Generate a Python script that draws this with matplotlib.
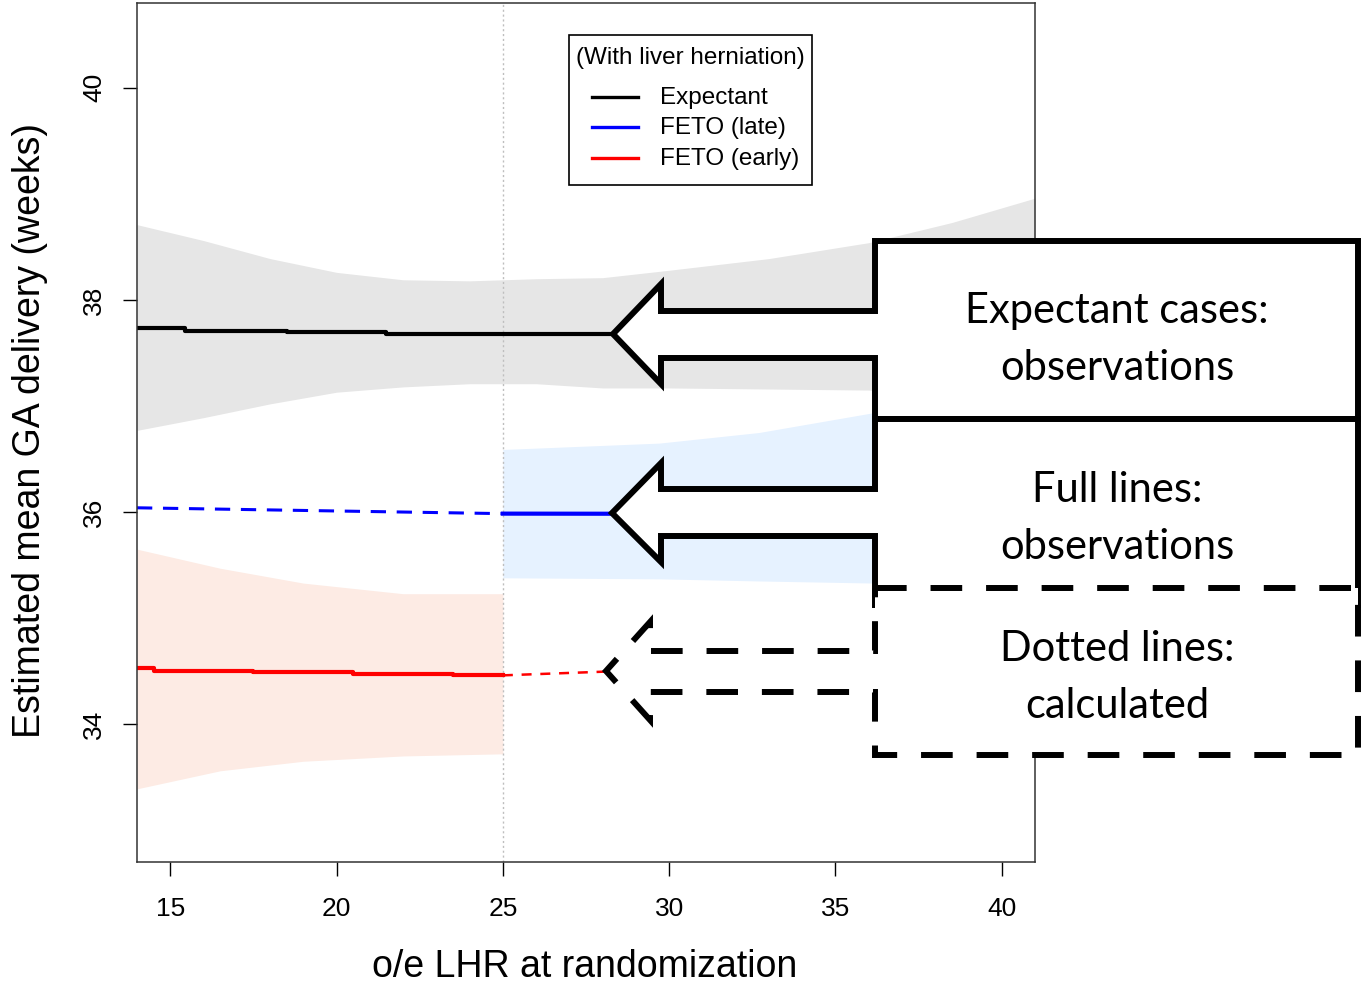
import numpy as np
import matplotlib
matplotlib.use("Agg")
import matplotlib.pyplot as plt
from matplotlib.patches import Polygon, Rectangle
from matplotlib.lines import Line2D

# ---- data ----
x_ticks = [15, 20, 25, 30, 35, 40]
y_ticks = [34, 36, 38, 40]
cutoff = 25

# expectant: step line + confidence band
exp_x = [14.0, 15.45, 18.5, 21.5, 41.0]
exp_y = [37.74, 37.71, 37.70, 37.68, 37.68]
exp_band_x = [14, 16, 18, 20, 22, 24, 26, 28, 30, 33, 36, 38.5, 41]
exp_band_hi = [38.71, 38.56, 38.39, 38.26, 38.19, 38.18, 38.20, 38.21, 38.28, 38.39, 38.54, 38.73, 38.96]
exp_band_lo = [36.77, 36.89, 37.02, 37.13, 37.18, 37.21, 37.21, 37.17, 37.17, 37.16, 37.15, 37.10, 37.05]

# FETO late: calculated (dashed) below cutoff, observed above
late_calc_x = [14.0, 25.0]
late_calc_y = [36.04, 35.985]
late_obs_x = [25.0, 41.0]
late_obs_y = [35.985, 35.98]
late_band_x = [25.0, 29.7, 32.7, 36.2, 41.0]
late_band_hi = [36.59, 36.65, 36.75, 36.94, 37.30]
late_band_lo = [35.38, 35.37, 35.35, 35.33, 35.25]

# FETO early: observed below cutoff, calculated (dashed) above
early_obs_x = [14.0, 14.5, 17.5, 20.5, 23.5, 25.0]
early_obs_y = [34.53, 34.50, 34.49, 34.47, 34.46, 34.46]
early_calc_x = [25.0, 28.5]
early_calc_y = [34.46, 34.50]
early_band_x = [14.0, 16.5, 19.0, 22.0, 25.0]
early_band_hi = [35.65, 35.47, 35.33, 35.23, 35.23]
early_band_lo = [33.39, 33.56, 33.65, 33.70, 33.72]

legend_title = "(With liver herniation)"
legend_labels = ["Expectant", "FETO (late)", "FETO (early)"]
legend_colors = ["black", "#0000FF", "#FF0000"]

box_texts = [("Expectant cases:", "observations"),
             ("Full lines:", "observations"),
             ("Dotted lines:", "calculated")]

W, H = 1364, 983
fig = plt.figure(figsize=(W / 100, H / 100), dpi=100)
plt.rcParams['font.family'] = ['Liberation Sans', 'DejaVu Sans']


def px(x, y):
    return (x / W, 1 - y / H)


ax = fig.add_axes([137 / W, 1 - 862 / H, (1035 - 137) / W, (862 - 3) / H])

ax.fill_between(exp_band_x, exp_band_lo, exp_band_hi, color="#E6E6E6", lw=0)
ax.fill_between(late_band_x, late_band_lo, late_band_hi, color="#E6F2FF", lw=0)
ax.fill_between(early_band_x, early_band_lo, early_band_hi, color="#FDEBE4", lw=0)
ax.axvline(cutoff, color="#BEBEBE", lw=1, ls=(0, (1.5, 2)))

ax.plot(exp_x, exp_y, color="black", lw=3, drawstyle="steps-post")
ax.plot(late_calc_x, late_calc_y, color="#0000FF", lw=2.2, ls=(0, (5, 3.5)))
ax.plot(late_obs_x, late_obs_y, color="#0000FF", lw=3)
ax.plot(early_obs_x, early_obs_y, color="#FF0000", lw=3, drawstyle="steps-post")
ax.plot(early_calc_x, early_calc_y, color="#FF0000", lw=1.8, ls=(0, (4, 3.5)))

ax.set_xlim(14, 41)
ax.set_ylim(32.7, 40.8)
ax.set_xticks(x_ticks)
ax.set_yticks(y_ticks)
ax.tick_params(axis="x", length=10, width=1, labelsize=19, pad=15.5)
ax.tick_params(axis="y", length=10, width=1, labelsize=19, pad=12, labelrotation=90)
for lbl in ax.get_yticklabels():
    lbl.set_va("center")
for s in ax.spines.values():
    s.set_linewidth(1.1)
    s.set_color("#333333")

fig.text(*px(30, 431), "Estimated mean GA delivery (weeks)", rotation=90,
         ha="center", va="center", fontsize=27)
fig.text(*px(585, 967), "o/e LHR at randomization", ha="center", va="center", fontsize=27)

# legend drawn by hand to follow the R layout
x0, y0 = px(569, 185)
x1, y1 = px(812, 35)
fig.add_artist(Rectangle((x0, y0), x1 - x0, y1 - y0, transform=fig.transFigure,
                         facecolor="white", edgecolor="black", lw=1.2, zorder=4))
fig.text(*px(690, 58), legend_title, ha="center", va="center", fontsize=17.5, zorder=5)
for i, (lab, col) in enumerate(zip(legend_labels, legend_colors)):
    yy = [97, 127, 158][i]
    a, b = px(592, yy)
    c, _ = px(638, yy)
    fig.add_artist(Line2D([a, c], [b, b], transform=fig.transFigure, color=col, lw=2.4, zorder=5))
    fig.text(*px(660, yy + 1), lab, ha="left", va="center", fontsize=17.5, zorder=5)

# callout boxes (figure pixel coordinates)
callouts = [
    ([(875, 241), (1358, 241), (1358, 419), (875, 419), (875, 358), (661, 358), (661, 384),
      (613, 334), (661, 284), (661, 311), (875, 311)], "-", 339),
    ([(875, 419), (1358, 419), (1358, 605), (875, 605), (875, 536), (661, 536), (661, 562),
      (612, 513), (661, 463), (661, 489), (875, 489)], "-", 518),
    ([(875, 588), (1358, 588), (1358, 755), (875, 755), (875, 692), (650, 692), (650, 720),
      (606, 671), (650, 622), (650, 651), (875, 651)], (0, (5.3, 4)), 677),
]
for (pts, ls, yc), (l1, l2) in zip(callouts, box_texts):
    poly = Polygon([px(*p) for p in pts], closed=True, transform=fig.transFigure,
                   facecolor="white", edgecolor="black", lw=4.3, ls=ls,
                   joinstyle="miter", zorder=6)
    fig.add_artist(poly)
    fig.text(*px(1117, yc - 28), l1, ha="center", va="center", fontsize=30,
             family="Lato", zorder=7)
    fig.text(*px(1117, yc + 29), l2, ha="center", va="center", fontsize=30,
             family="Lato", zorder=7)

fig.savefig("out.png", dpi=100)
